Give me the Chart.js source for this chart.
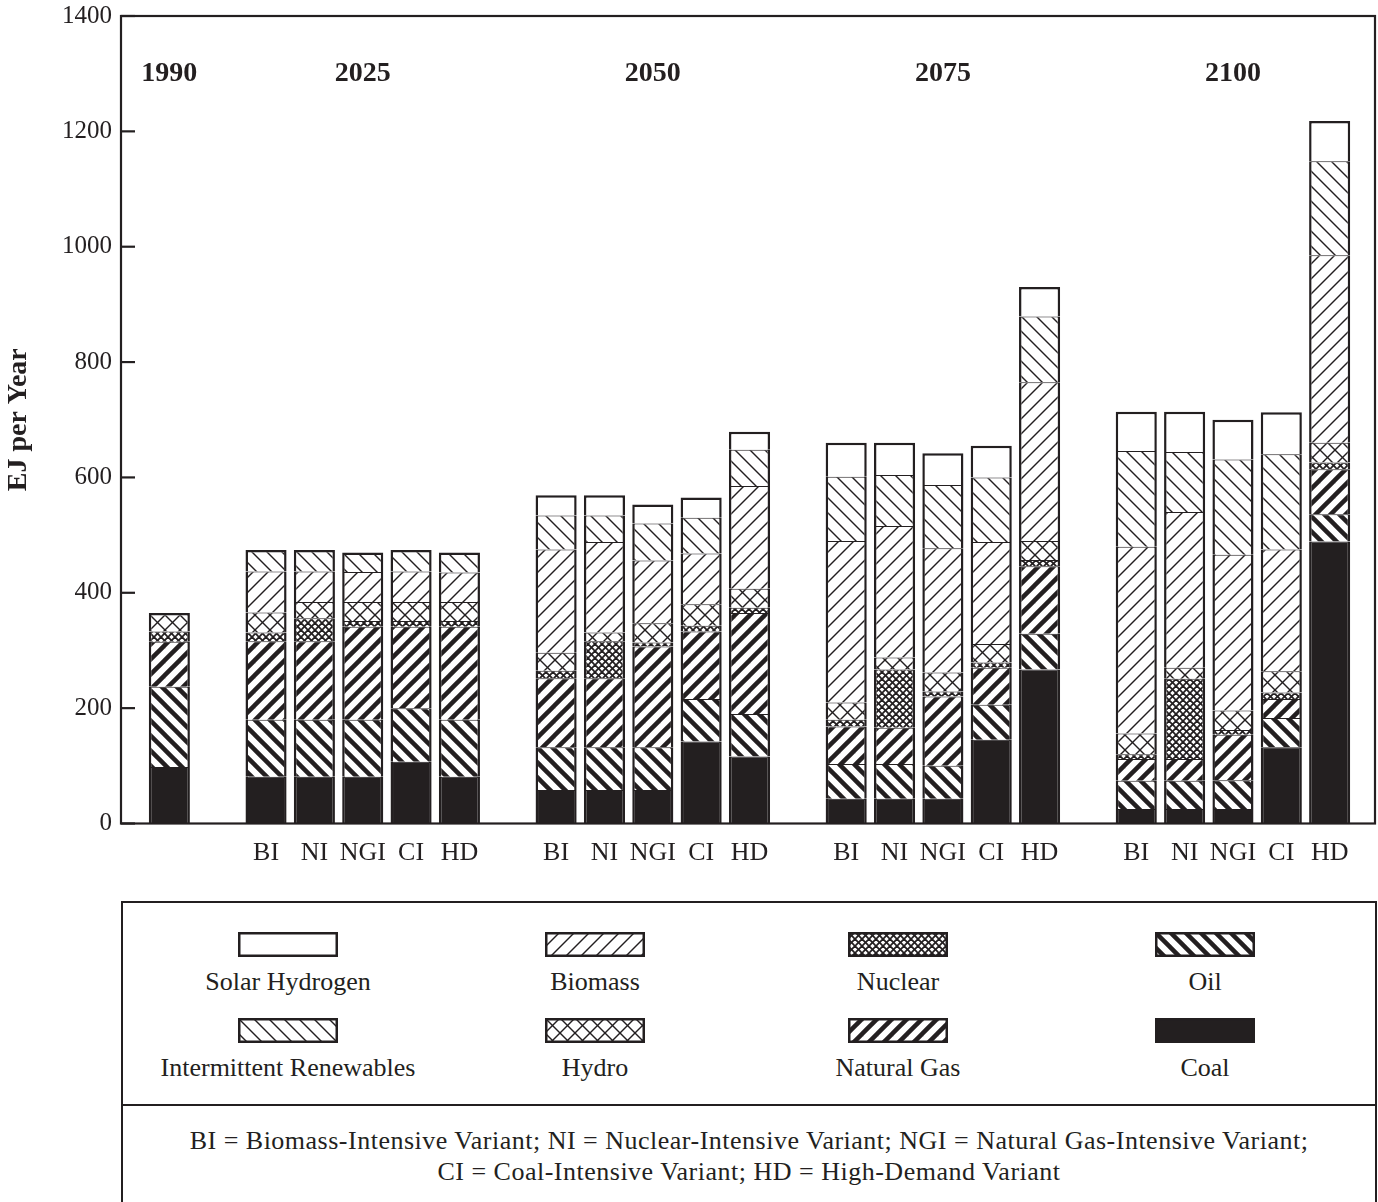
<!DOCTYPE html>
<html>
<head>
<meta charset="utf-8">
<script src="https://cdn.jsdelivr.net/npm/chart.js@4.4.1/dist/chart.umd.min.js"></script>
<style>
html,body{margin:0;padding:0;background:#fff;width:1378px;height:1202px;overflow:hidden;
  font-family:'Liberation Serif','Times New Roman',serif;color:#231f20;}
#wrap{position:absolute;left:0;top:0;width:1378px;height:880px;}
#legendBox{position:absolute;left:121px;top:901px;width:1256px;height:330px;border:2px solid #231f20;box-sizing:border-box;}
#legendItems{position:absolute;left:0;top:0;width:100%;height:203px;border-bottom:2px solid #231f20;box-sizing:border-box;}
.sw{position:absolute;width:100px;height:25px;margin-left:-50px;}
.lb{position:absolute;width:360px;margin-left:-180px;text-align:center;font-size:26px;line-height:30px;white-space:nowrap;}
#notes{position:absolute;left:0;top:222px;width:100%;text-align:center;font-size:26px;line-height:31px;letter-spacing:0.5px;}
</style>
</head>
<body>
<div id="wrap"><canvas id="c" width="1378" height="880"></canvas></div>
<div id="legendBox">
  <div id="legendItems"></div>
  <div id="notes">BI = Biomass-Intensive Variant; NI = Nuclear-Intensive Variant; NGI = Natural Gas-Intensive Variant;<br>CI = Coal-Intensive Variant; HD = High-Demand Variant</div>
</div>
<script>
const INK = '#231f20';
const FONT = "'Liberation Serif','Times New Roman',serif";

// ---- data ----
const years = ['1990', '2025', '2050', '2075', '2100'];
const variants = ['BI', 'NI', 'NGI', 'CI', 'HD'];
// order of values: 1990, then for 2025/2050/2075/2100 the variants BI, NI, NGI, CI, HD
const coal         = [98,  81, 81, 81,107, 81,  58, 58, 58,142,116,  43, 43, 43,145,267,  25, 25, 25,132,489];
const oil          = [139, 99, 99, 99, 93, 99,  74, 74, 74, 74, 74,  60, 60, 57, 61, 62,  49, 49, 50, 51, 47];
const naturalGas   = [78, 136,136,161,141,161, 120,120,175,117,175,  65, 63,120, 64,117,  38, 38, 79, 33, 78];
const nuclear      = [18,  15, 40, 10, 10, 10,  13, 64,  7, 10,  9,  12,101,  9,  9, 11,   8,139,  8, 11, 12];
const hydro        = [32,  35, 28, 33, 33, 33,  31, 15, 33, 37, 33,  30, 21, 33, 32, 33,  36, 19, 34, 37, 34];
const biomass      = [0,   71, 53, 52, 53, 51, 179,157,109, 88,178, 280,228,215,177,275, 324,270,270,211,325];
const intermittent = [0,   37, 37, 34, 37, 35,  59, 46, 64, 62, 63, 111, 88,110,112,114, 166,104,165,165,163];
const solarH2      = [0,    0,  0,  0,  0,  0,  35, 35, 33, 35, 31,  59, 56, 55, 55, 51,  68, 70, 69, 73, 70];
const yTicks = [0, 200, 400, 600, 800, 1000, 1200, 1400];

// ---- slots (spacer columns between year groups) ----
const slots = [{label: '', src: null}];
slots.push({label: '', src: 0, year: '1990'});
let srcIdx = 1;
years.slice(1).forEach(yr => {
  slots.push({label: '', src: null});
  variants.forEach(v => { slots.push({label: v, src: srcIdx++, year: yr}); });
});
slots.push({label: '', src: null});
const labels = slots.map((s, i) => s.label + '#' + i);
const tickLabels = slots.map(s => s.label);
const toSlots = arr => slots.map(s => (s.src === null || !arr[s.src]) ? null : arr[s.src]);

// ---- patterns ----
function tile(size, draw) {
  const c = document.createElement('canvas');
  c.width = c.height = size;
  const g = c.getContext('2d');
  g.fillStyle = '#fff'; g.fillRect(0, 0, size, size);
  g.fillStyle = INK; g.strokeStyle = INK;
  draw(g, size);
  return c;
}
function diag(g, p, lw, dir) {
  g.lineWidth = lw;
  for (let k = -1; k <= 1; k++) {
    g.beginPath();
    if (dir === '/') { g.moveTo(k * p - 3, p + 3); g.lineTo(k * p + p + 3, -3); }
    else { g.moveTo(k * p - 3, -3); g.lineTo(k * p + p + 3, p + 3); }
    g.stroke();
  }
}
const pctx = document.getElementById('c').getContext('2d');
const mk = t => pctx.createPattern(t, 'repeat');
const P = {
  coal: INK,
  oil: mk(tile(15, (g, p) => diag(g, p, 4.5, '\\'))),
  gas: mk(tile(15, (g, p) => diag(g, p, 4.5, '/'))),
  nuclear: mk(tile(7, (g, p) => { diag(g, p, 1.8, '/'); diag(g, p, 1.8, '\\'); })),
  hydro: mk(tile(15, (g, p) => { diag(g, p, 1.4, '/'); diag(g, p, 1.4, '\\'); })),
  biomass: mk(tile(15, (g, p) => diag(g, p, 1.4, '/'))),
  inter: mk(tile(15, (g, p) => diag(g, p, 1.4, '\\'))),
  solar: '#ffffff'
};

const seriesDefs = [
  {name: 'Coal', data: coal, fill: P.coal},
  {name: 'Oil', data: oil, fill: P.oil},
  {name: 'Natural Gas', data: naturalGas, fill: P.gas},
  {name: 'Nuclear', data: nuclear, fill: P.nuclear},
  {name: 'Hydro', data: hydro, fill: P.hydro},
  {name: 'Biomass', data: biomass, fill: P.biomass},
  {name: 'Intermittent Renewables', data: intermittent, fill: P.inter},
  {name: 'Solar Hydrogen', data: solarH2, fill: P.solar}
];

function borderW(ctx) {
  const i = ctx.dataIndex, d = ctx.datasetIndex;
  const ds = ctx.chart.data.datasets;
  let top = true;
  for (let k = d + 1; k < ds.length; k++) { if (ds[k].data[i]) { top = false; break; } }
  return {left: 2.5, right: 2.5, top: top ? 2.5 : 1, bottom: 0};
}

const datasets = seriesDefs.map(s => ({
  label: s.name,
  data: toSlots(s.data),
  backgroundColor: s.fill,
  borderColor: INK,
  borderWidth: borderW,
  borderSkipped: 'bottom',
  inflateAmount: 0,
  categoryPercentage: 0.85,
  barPercentage: 1
}));

// ---- plugin: frame, inward ticks, year headings ----
const decor = {
  id: 'decor',
  afterDatasetsDraw(chart) {
    const {ctx, chartArea: a, scales: {x, y}} = chart;
    ctx.save();
    ctx.strokeStyle = INK; ctx.lineWidth = 2.2;
    const right = a.right - 3;
    ctx.strokeRect(a.left, a.top, right - a.left, a.bottom - a.top);
    yTicks.forEach(v => {
      const py = y.getPixelForValue(v);
      ctx.beginPath(); ctx.moveTo(a.left, py); ctx.lineTo(a.left + 14, py); ctx.stroke();
    });
    ctx.fillStyle = INK;
    ctx.font = 'bold 28px ' + FONT;
    ctx.textAlign = 'center'; ctx.textBaseline = 'middle';
    years.forEach(yr => {
      const idx = slots.map((s, i) => s.year === yr ? i : -1).filter(i => i >= 0);
      const px = (x.getPixelForValue(idx[0]) + x.getPixelForValue(idx[idx.length - 1])) / 2;
      ctx.fillText(yr, px, y.getPixelForValue(1300));
    });
    ctx.restore();
  }
};

new Chart(document.getElementById('c'), {
  type: 'bar',
  data: {labels, datasets},
  options: {
    responsive: false,
    animation: false,
    devicePixelRatio: 1,
    layout: {padding: {top: 16, right: 0, left: 0, bottom: 0}},
    plugins: {legend: {display: false}, tooltip: {enabled: false}},
    scales: {
      x: {
        stacked: true,
        offset: false,
        grid: {display: false, drawTicks: false, offset: false},
        border: {display: false},
        ticks: {
          autoSkip: false, maxRotation: 0, minRotation: 0, padding: 14,
          color: INK, font: {family: FONT, size: 26},
          callback: (v, i) => tickLabels[i]
        },
        afterFit: s => { s.height = 56.5; s.paddingLeft = 0; s.paddingRight = 0; }
      },
      y: {
        stacked: true,
        min: 0, max: 1400,
        grid: {display: false, drawTicks: false},
        border: {display: false},
        ticks: {stepSize: 200, padding: 9, color: INK, font: {family: FONT, size: 25},
          callback: v => String(v)},
        title: {display: true, text: 'EJ per Year', color: INK, font: {family: FONT, size: 28, weight: 'bold'}, padding: {top: 2, bottom: 0}},
        afterFit: s => { s.width = 121; s.paddingTop = 0; s.paddingBottom = 0; }
      }
    }
  },
  plugins: [decor]
});

// ---- legend ----
const legendRows = [
  ['Solar Hydrogen', 'Biomass', 'Nuclear', 'Oil'],
  ['Intermittent Renewables', 'Hydro', 'Natural Gas', 'Coal']
];
const colCenters = [165, 472, 775, 1082];
const rowSwTop = [29, 115];
const rowLbTop = [64, 150];
const box = document.getElementById('legendItems');
legendRows.forEach((row, r) => {
  row.forEach((name, cIdx) => {
    const def = seriesDefs.find(s => s.name === name);
    const cv = document.createElement('canvas');
    cv.width = 100; cv.height = 25; cv.className = 'sw';
    cv.style.left = colCenters[cIdx] + 'px'; cv.style.top = rowSwTop[r] + 'px';
    const g = cv.getContext('2d');
    g.fillStyle = def.fill; g.fillRect(0, 0, 100, 25);
    g.strokeStyle = INK; g.lineWidth = 2.5; g.strokeRect(1.25, 1.25, 97.5, 22.5);
    box.appendChild(cv);
    const lb = document.createElement('div');
    lb.className = 'lb'; lb.textContent = name;
    lb.style.left = colCenters[cIdx] + 'px'; lb.style.top = rowLbTop[r] + 'px';
    box.appendChild(lb);
  });
});
</script>
</body>
</html>
